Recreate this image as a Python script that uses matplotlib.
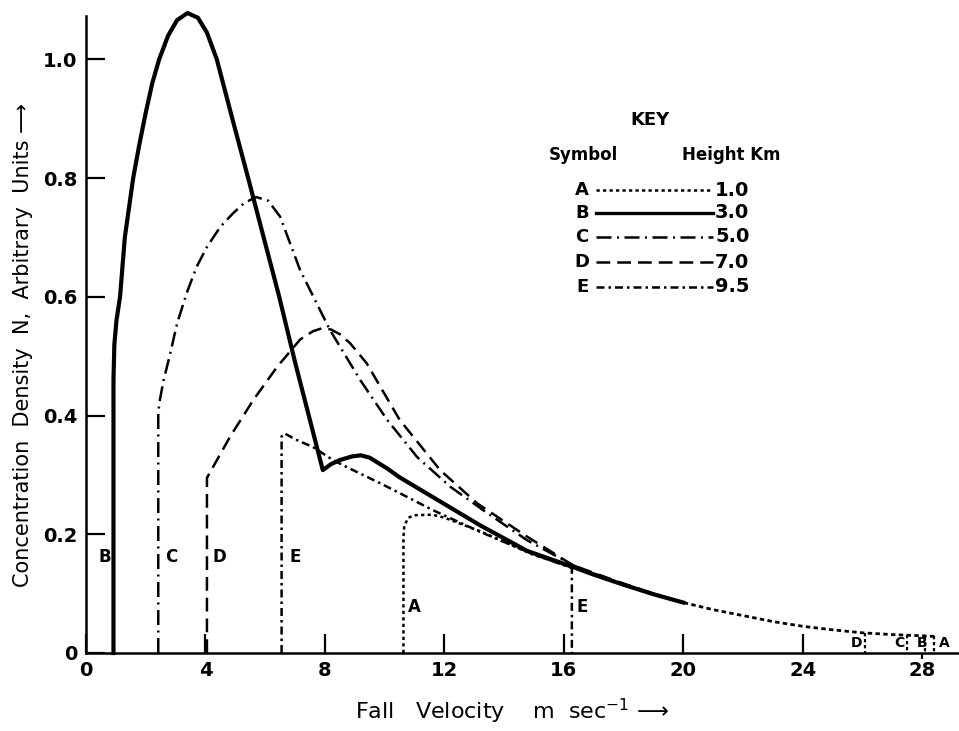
import matplotlib
matplotlib.use("Agg")
import matplotlib.pyplot as plt
from matplotlib.lines import Line2D, TICKDOWN

plt.rcParams['font.family'] = ['DejaVu Sans']

# --- curve data (fall velocity, concentration density) ---
a_x = [10.63, 10.63, 10.66, 10.8, 11.0, 11.6, 12.0, 13.2, 15.0, 16.3]
a_y = [0, 0.195, 0.215, 0.228, 0.232, 0.233, 0.228, 0.205, 0.165, 0.144]

b_x = [0.92, 0.92, 0.95, 1.02, 1.14, 1.3, 1.58, 1.78, 2.0, 2.22, 2.45, 2.75, 3.05,
       3.4, 3.75, 4.05, 4.38, 4.9, 5.43, 5.95, 6.47, 7.0, 7.93, 8.2, 8.5, 8.9,
       9.2, 9.5, 10.08, 10.5, 11.6, 13.2, 14.77, 16.3, 17, 18, 19, 20]
b_y = [0, 0.46, 0.52, 0.56, 0.60, 0.70, 0.80, 0.855, 0.91, 0.96, 1.00, 1.04, 1.066,
       1.078, 1.07, 1.045, 1.00, 0.90, 0.80, 0.70, 0.60, 0.49, 0.308, 0.318, 0.325, 0.331,
       0.333, 0.329, 0.311, 0.296, 0.263, 0.215, 0.172, 0.145, 0.132, 0.115, 0.099, 0.085]

c_x = [2.42, 2.42, 2.45, 2.6, 2.8, 3.05, 3.37, 3.7, 4.05, 4.5, 4.93, 5.3, 5.7, 6.1,
       6.5, 7.17, 8.17, 9.18, 10.08, 11.09, 12.2, 13.43, 14.77, 16.3, 17, 18, 19, 20]
c_y = [0, 0.40, 0.42, 0.46, 0.50, 0.555, 0.606, 0.65, 0.684, 0.718, 0.741, 0.758, 0.768, 0.762,
       0.735, 0.645, 0.544, 0.46, 0.393, 0.33, 0.28, 0.236, 0.19, 0.148, 0.134, 0.116, 0.1, 0.085]

d_x = [4.05, 4.05, 4.82, 5.6, 6.4, 7.17, 7.6, 7.9, 8.2, 8.5, 8.84, 9.4, 9.85, 10.5,
       11.86, 13.1, 14.77, 16.3, 17, 18, 19, 20]
d_y = [0, 0.295, 0.364, 0.426, 0.482, 0.528, 0.542, 0.547, 0.545, 0.537, 0.522, 0.488,
       0.449, 0.393, 0.308, 0.252, 0.196, 0.148, 0.135, 0.117, 0.1, 0.085]

e_x = [6.55, 6.55, 6.65, 7.0, 7.6, 8.27, 8.74, 9.85, 10.75, 11.6, 13.2, 15.0, 16.27, 16.27]
e_y = [0, 0.365, 0.37, 0.36, 0.347, 0.325, 0.313, 0.286, 0.263, 0.241, 0.204, 0.166, 0.143, 0]

# common tail that all curves share at high fall velocity
tail_x = [16.3, 17, 18, 19, 20, 21, 22, 23, 24, 25, 26, 27, 28, 28.4]
tail_y = [0.145, 0.132, 0.115, 0.099, 0.085, 0.073, 0.063, 0.053, 0.045, 0.039, 0.034,
          0.031, 0.029, 0.028]

# where each curve ends on the right (D, C, B, A)
end_x = [26.1, 27.5, 28.1, 28.4]
end_top = [0.034, 0.031, 0.029, 0.028]

symbols = ['A', 'B', 'C', 'D', 'E']
heights = ['1.0', '3.0', '5.0', '7.0', '9.5']

lw = 1.8
styles = {
    'A': dict(lw=lw, ls=(0, (1.3, 1.3))),
    'B': dict(lw=3.0, ls='-'),
    'C': dict(lw=lw, ls=(0, (6, 2.2, 0.8, 2.2))),
    'D': dict(lw=lw, ls=(0, (5.5, 2.8))),
    'E': dict(lw=lw, ls=(0, (3.2, 1.6, 1.0, 1.6))),
}

fig = plt.figure(figsize=(9.59, 7.31), dpi=100)
ax = fig.add_axes([86 / 959, 78 / 731, 872 / 959, 637 / 731])

ax.plot(a_x, a_y, color='black', **styles['A'])
ax.plot(b_x, b_y, color='black', **styles['B'], clip_on=False)
ax.plot(c_x, c_y, color='black', **styles['C'])
ax.plot(d_x, d_y, color='black', **styles['D'])
ax.plot(e_x, e_y, color='black', **styles['E'])
ax.plot(tail_x, tail_y, color='black', lw=2.0, ls=(0, (1.6, 1.2)))
for xe, yt in zip(end_x, end_top):
    ax.plot([xe, xe], [yt, 0], color='black', lw=1.6, ls=(0, (1.5, 1.2)))

ax.set_xlim(0, 29.2)
ax.set_ylim(0, 1.073)
for s in ['top', 'right']:
    ax.spines[s].set_visible(False)
for s in ['left', 'bottom']:
    ax.spines[s].set_linewidth(1.8)

ax.set_xticks([0, 4, 8, 12, 16, 20, 24, 28])
ax.set_xticklabels(['0', '4', '8', '12', '16', '20', '24', '28'])
ax.set_yticks([0, 0.2, 0.4, 0.6, 0.8, 1.0])
ax.set_yticklabels(['0', '0.2', '0.4', '0.6', '0.8', '1.0'])
ax.tick_params(axis='both', direction='in', length=14, width=1.6,
               labelsize=14, pad=6)
for lab in ax.get_xticklabels() + ax.get_yticklabels():
    lab.set_fontweight('bold')
# the tick at 28 is a short mark below the axis
last = ax.xaxis.get_major_ticks()[-1]
last.tick1line.set_marker(TICKDOWN)
last.tick1line.set_markersize(4)

ax.set_xlabel('Fall   Velocity    m  sec$^{-1}$ \u27f6', fontsize=16)
ax.xaxis.set_label_coords(0.489, -0.068)
ax.set_ylabel('Concentration  Density  N,  Arbitrary  Units \u27f6', fontsize=15)
ax.yaxis.set_label_coords(-0.061, 0.484)

# curve letters near their starts and ends
letter_kw = dict(fontsize=12, fontweight='bold', ha='center', va='center')
ax.text(0.62, 0.162, 'B', **letter_kw)
ax.text(2.85, 0.162, 'C', **letter_kw)
ax.text(4.45, 0.162, 'D', **letter_kw)
ax.text(7.0, 0.162, 'E', **letter_kw)
ax.text(11.0, 0.078, 'A', **letter_kw)
ax.text(16.6, 0.078, 'E', **letter_kw)
small_kw = dict(fontsize=10, fontweight='bold', ha='center', va='center')
ax.text(25.8, 0.017, 'D', **small_kw)
ax.text(27.25, 0.017, 'C', **small_kw)
ax.text(28.0, 0.017, 'B', **small_kw)
ax.text(28.75, 0.017, 'A', **small_kw)


# key
def fx(px):
    return px / 959


def fy(py):
    return 1 - py / 731


fig.text(fx(650), fy(120), 'KEY', fontsize=13, fontweight='bold', ha='center', va='center')
fig.text(fx(583), fy(155), 'Symbol', fontsize=12, fontweight='bold', ha='center', va='center')
fig.text(fx(731), fy(155), 'Height Km', fontsize=12, fontweight='bold', ha='center', va='center')
row_y = [190, 213, 237, 262, 287]
for sym, h, ry in zip(symbols, heights, row_y):
    fig.text(fx(582), fy(ry), sym, fontsize=13, fontweight='bold', ha='center', va='center')
    st = styles[sym]
    fig.add_artist(Line2D([fx(596), fx(713)], [fy(ry), fy(ry)], color='black',
                          lw=min(st['lw'], 2.4), ls=st['ls']))
    fig.text(fx(715), fy(ry), h, fontsize=14, fontweight='bold', ha='left', va='center')

fig.savefig('out.png', dpi=100)
